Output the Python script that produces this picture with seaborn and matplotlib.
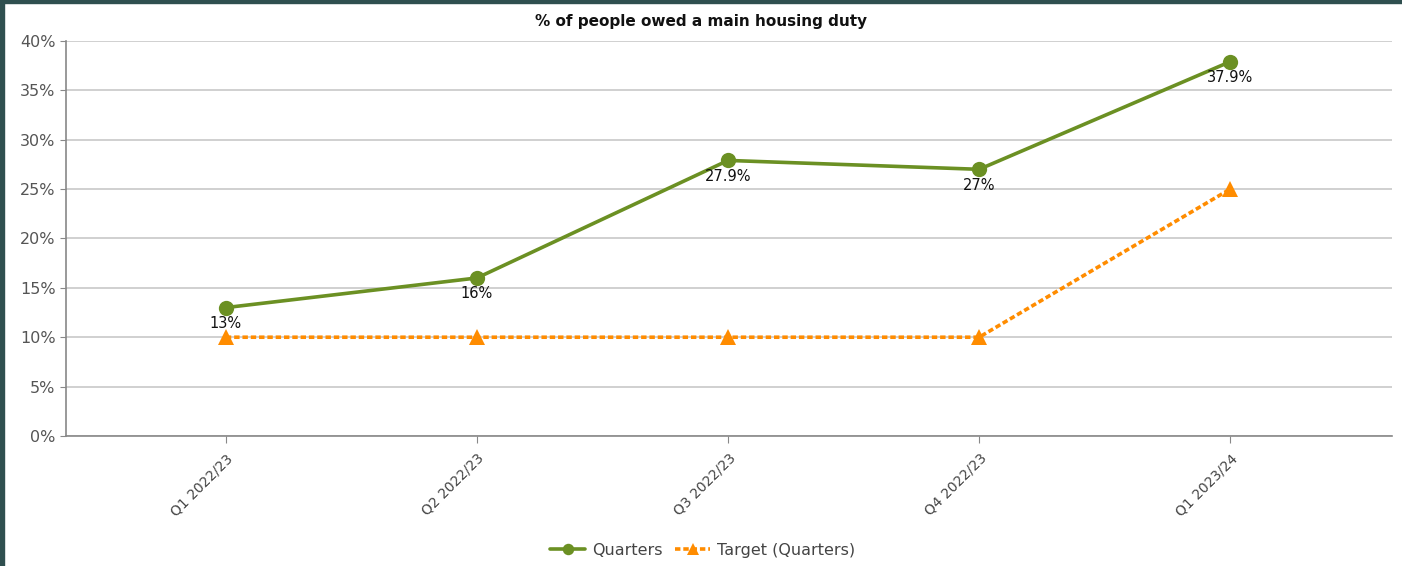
import pandas as pd
import seaborn as sns
import matplotlib.pyplot as plt
from matplotlib.ticker import FuncFormatter
from matplotlib.patches import Rectangle

quarters = ["Q1 2022/23", "Q2 2022/23", "Q3 2022/23", "Q4 2022/23", "Q1 2023/24"]
actual = [13, 16, 27.9, 27, 37.9]
target = [10, 10, 10, 10, 25]
labels = ["13%", "16%", "27.9%", "27%", "37.9%"]

df = pd.DataFrame({"quarter": quarters, "Quarters": actual, "Target (Quarters)": target})
df["x"] = range(len(quarters))

sns.set_style("white")
plt.rcParams['font.family'] = ['DejaVu Sans']

fig = plt.figure(figsize=(14.02, 5.66), dpi=100)
ax = fig.add_axes([0.047, 0.2297, 0.946, 0.698])

green = "#6b9023"
orange = "#ff8c00"

sns.lineplot(data=df, x="x", y="Quarters", ax=ax, color=green, linewidth=2.6,
             marker="o", markersize=11, markeredgewidth=0, label="Quarters", zorder=4)
sns.lineplot(data=df, x="x", y="Target (Quarters)", ax=ax, color=orange, linewidth=2.6,
             linestyle=(0, (1.5, 0.8)), marker="^", markersize=12, markeredgewidth=0,
             label="Target (Quarters)", zorder=3)

# data labels under the green points
for i, v in enumerate(actual):
    ax.annotate(labels[i], (i, v), xytext=(0, -6), textcoords="offset points",
                ha="center", va="top", fontsize=10.5, color="#111111", zorder=5)

ax.set_xlim(-0.637, 4.645)
ax.set_ylim(0, 40)
ax.set_yticks(range(0, 41, 5))
ax.yaxis.set_major_formatter(FuncFormatter(lambda v, p: f"{v:.0f}%"))
ax.set_xticks(df["x"])
ax.set_xticklabels(quarters, rotation=45, ha="right", rotation_mode="anchor",
                   fontsize=10, color="#444444")
ax.tick_params(axis="y", labelsize=11.5, labelcolor="#555555", length=4, color="#888888",
               left=True)
ax.tick_params(axis="x", length=5, color="#888888", bottom=True, pad=6)
ax.grid(axis="y", color="#c8c8c8", linewidth=1.2)
ax.set_axisbelow(True)
for s in ["top", "right"]:
    ax.spines[s].set_visible(False)
for s in ["left", "bottom"]:
    ax.spines[s].set_color("#888888")
    ax.spines[s].set_linewidth(1.2)
ax.set_xlabel("")
ax.set_ylabel("")

fig.suptitle("% of people owed a main housing duty", x=0.5, y=0.975,
             fontsize=11, fontweight="bold", color="#111111")

ax.legend(loc="center", bbox_to_anchor=(0.48, -0.29), ncol=2, frameon=False,
          fontsize=11.5, labelcolor="#444444", handlelength=2.2, columnspacing=0.8,
          handletextpad=0.4, borderaxespad=0, markerscale=0.75)

# dark frame on the left and top edge
fig.patches.append(Rectangle((0, 0), 0.003, 1, transform=fig.transFigure,
                             color="#2f4f4f", zorder=10))
fig.patches.append(Rectangle((0, 0.995), 1, 0.005, transform=fig.transFigure,
                             color="#2f4f4f", zorder=10))

fig.savefig("out.png", dpi=100)
